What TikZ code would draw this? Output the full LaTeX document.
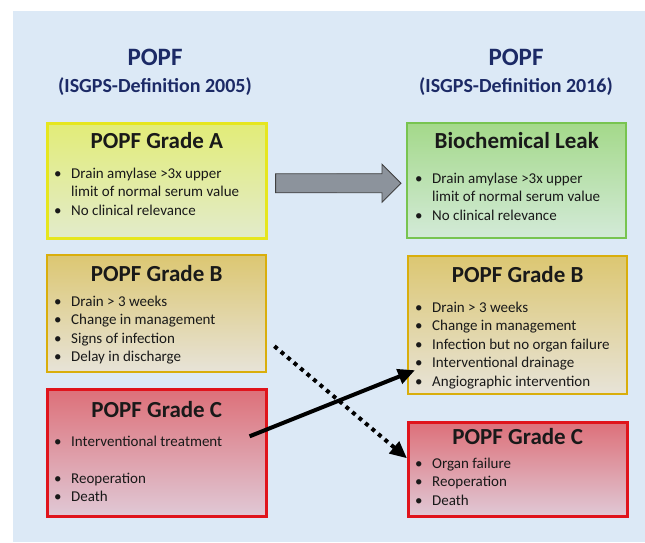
\documentclass[tikz,border=0pt]{standalone}
\usepackage{fontspec}
\setmainfont{Carlito}
\usetikzlibrary{positioning,calc,arrows.meta}

\definecolor{panelblue}{HTML}{DCE9F6}
\definecolor{titlenavy}{HTML}{1C2A66}
\definecolor{gradeAline}{HTML}{E6E61E}
\definecolor{gradeAtop}{HTML}{E2EC78}
\definecolor{gradeAbot}{HTML}{E2EBCB}
\definecolor{leakline}{HTML}{78C450}
\definecolor{leaktop}{HTML}{A4D98A}
\definecolor{leakbot}{HTML}{D3EAD8}
\definecolor{gradeBline}{HTML}{D9AE0C}
\definecolor{gradeBtop}{HTML}{DCC772}
\definecolor{gradeBbot}{HTML}{E7E3D8}
\definecolor{gradeCline}{HTML}{E0141C}
\definecolor{gradeCtop}{HTML}{DD7079}
\definecolor{gradeCbot}{HTML}{E0C9D6}
\definecolor{arrowgray}{HTML}{8C939C}

\newcommand{\bul}[1]{\makebox[17pt][l]{\textbullet}#1}
\newcommand{\cont}[1]{\hspace*{17pt}#1}

\begin{document}
\begin{tikzpicture}[x=1pt,y=-1pt,>={Triangle[length=17pt,width=15pt]}]
  \tikzstyle{gradebox}=[rectangle,anchor=north west,minimum width=219pt,shading angle=45]
  \tikzstyle{boxA}=[gradebox,draw=gradeAline,line width=2.6pt,top color=gradeAtop,bottom color=gradeAbot]
  \tikzstyle{boxleak}=[gradebox,draw=leakline,line width=2.4pt,top color=leaktop,bottom color=leakbot]
  \tikzstyle{boxB}=[gradebox,draw=gradeBline,line width=2.4pt,top color=gradeBtop,bottom color=gradeBbot]
  \tikzstyle{boxC}=[gradebox,draw=gradeCline,line width=2.6pt,top color=gradeCtop,bottom color=gradeCbot]
  \tikzstyle{boxtitle}=[inner sep=0pt,font=\fontsize{23}{27}\selectfont\bfseries,text=black!90]
  \tikzstyle{boxlist}=[inner sep=0pt,align=left,anchor=base west,font=\fontsize{15}{18.5}\selectfont,text=black!90]
  \tikzstyle{headline}=[inner sep=0pt,font=\bfseries,text=titlenavy]

  \useasboundingbox (0,0) rectangle (645,542);
  \fill[panelblue] (13,11) rectangle (645,542);

  % headings
  \node[headline,font=\fontsize{25}{30}\selectfont\bfseries] (old)  at (155,57) {POPF};
  \node[headline,font=\fontsize{20}{24}\selectfont\bfseries] (oldsub) at (155,87) {(ISGPS-Definition 2005)};
  \node[headline,font=\fontsize{25}{30}\selectfont\bfseries] (new)  at (516,57) {POPF};
  \node[headline,font=\fontsize{20}{24}\selectfont\bfseries] (newsub) at (516,87) {(ISGPS-Definition 2016)};

  % 2005
  \node[boxA,minimum height=115pt] (A) at (46,122) {};
  \node[boxtitle,below=26pt of A.north,anchor=base] (Atitle) {POPF Grade A};
  \node[boxlist,below right=93pt and 8pt of A.north west,anchor=base west] (Alist)
    {\bul{Drain amylase >3x upper}\\ \cont{limit of normal serum value}\\ \bul{No clinical relevance}};

  \node[boxB,minimum height=117pt] (B) at (46,254) {};
  \node[boxtitle,below=27pt of B.north,anchor=base] (Btitle) {POPF Grade B};
  \node[boxlist,below right=107.5pt and 8pt of B.north west,anchor=base west] (Blist)
    {\bul{Drain > 3 weeks}\\ \bul{Change in management}\\ \bul{Signs of infection}\\ \bul{Delay in discharge}};

  \node[boxC,minimum height=127pt] (C) at (46,388) {};
  \node[boxtitle,below=29pt of C.north,anchor=base] (Ctitle) {POPF Grade C};
  \node[boxlist,below right=113.5pt and 8pt of C.north west,anchor=base west] (Clist)
    {\bul{Interventional treatment}\\[18.5pt] \bul{Reoperation}\\ \bul{Death}};

  % 2016
  \node[boxleak,minimum height=115pt] (L) at (406,122) {};
  \node[boxtitle,below=26pt of L.north,anchor=base] (Ltitle) {Biochemical Leak};
  \node[boxlist,below right=98pt and 9pt of L.north west,anchor=base west] (Llist)
    {\bul{Drain amylase >3x upper}\\ \cont{limit of normal serum value}\\ \bul{No clinical relevance}};

  \node[boxB,minimum height=138pt] (NB) at (407,255) {};
  \node[boxtitle,below=27pt of NB.north,anchor=base] (NBtitle) {POPF Grade B};
  \node[boxlist,below right=131pt and 8pt of NB.north west,anchor=base west] (NBlist)
    {\bul{Drain > 3 weeks}\\ \bul{Change in management}\\ \bul{Infection but no organ failure}\\ \bul{Interventional drainage}\\ \bul{Angiographic intervention}};

  \node[boxC,minimum height=94pt] (NC) at (407,421) {};
  \node[boxtitle,below=23pt of NC.north,anchor=base] (NCtitle) {POPF Grade C};
  \node[boxlist,below right=84pt and 8pt of NC.north west,anchor=base west] (NClist)
    {\bul{Organ failure}\\ \bul{Reoperation}\\ \bul{Death}};

  % connectors
  \coordinate (gs) at ($(A.east)+(8,2.5)$);
  \coordinate (gt) at ($(L.west)+(-5,2.5)$);
  \draw[fill=arrowgray,draw=black!75,line width=0.8pt,line join=miter]
    ($(gs)+(0,-9.5)$) -- ($(gt)+(-19,-9.5)$) -- ($(gt)+(-19,-19)$) -- (gt)
    -- ($(gt)+(-19,19)$) -- ($(gt)+(-19,9.5)$) -- ($(gs)+(0,9.5)$) -- cycle;

  \coordinate (cs) at ($(C.east)+(-18,-16.5)$);
  \coordinate (ce) at ($(NB.west)+(8,45)$);
  \draw[->,line width=4pt] (cs) -- (ce);

  \coordinate (bs) at ($(B.east)+(7,32.5)$);
  \coordinate (be) at ($(NC.west)+(0,-11)$);
  \draw[->,line width=4pt,dash pattern=on 4pt off 4.5pt] (bs) -- (be);
\end{tikzpicture}
\end{document}
